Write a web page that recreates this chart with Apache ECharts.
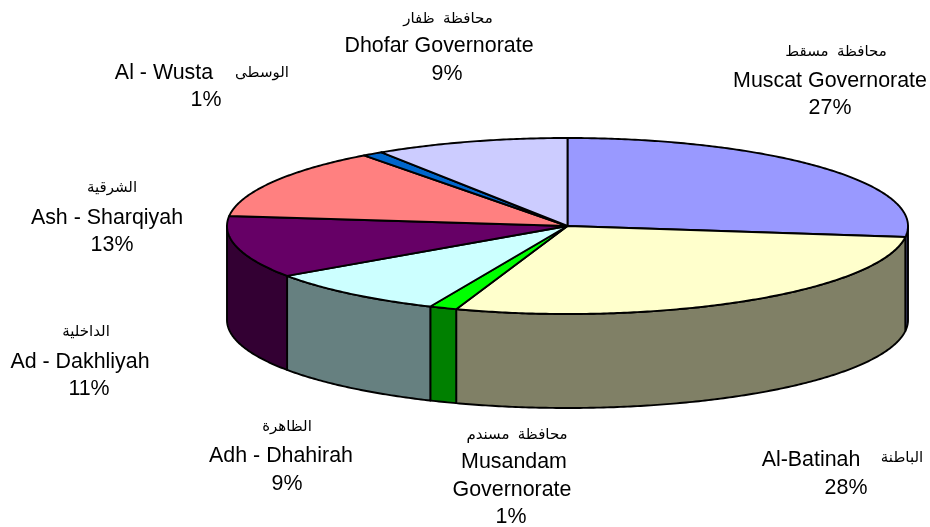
<!DOCTYPE html>
<html>
<head>
<meta charset="utf-8">
<style>html,body{margin:0;padding:0;background:#fff}#c{width:930px;height:527px}</style>
<script src="https://cdn.jsdelivr.net/npm/echarts@6/dist/echarts.min.js"></script>
</head>
<body>
<div id="c"></div>
<script>
// ---- data ----
var regionsEn = [['Muscat Governorate'], ['Al-Batinah'], ['Musandam', 'Governorate'], ['Adh - Dhahirah'],
                 ['Ad - Dakhliyah'], ['Ash - Sharqiyah'], ['Al - Wusta'], ['Dhofar Governorate']];
var regionsAr = ['محافظة  مسقط', 'الباطنة', 'محافظة  مسندم', 'الظاهرة', 'الداخلية', 'الشرقية', 'الوسطى', 'محافظة  ظفار'];
var shares = [27.0, 28.3, 1.3, 8.8, 11.4, 13.0, 1.0, 9.2];

// ---- styles ----
var topColors  = ['#9999FF', '#FFFFCC', '#00FF00', '#CCFFFF', '#660066', '#FF8080', '#0066CC', '#CCCCFF'];
var wallColors = ['#4D4D80', '#808066', '#008000', '#668080', '#330033', '#804040', '#003366', '#666680'];
var disc = { cx: 567.5, cy: 226, rx: 340.5, ry: 88, depth: 94 };
// label centres: [arabic], [english lines...], [percent]
var labelAt = [
  { ar: [836, 52],  en: [[830, 81]],  pct: [830, 108] },
  { ar: [902, 458], en: [[811, 460]], pct: [846, 488] },
  { ar: [517, 435], en: [[514, 462], [512, 490]], pct: [511, 517] },
  { ar: [287, 427], en: [[281, 456]], pct: [287, 484] },
  { ar: [86, 332],  en: [[80, 362]],  pct: [89, 389] },
  { ar: [112, 188], en: [[107, 218]], pct: [112, 245] },
  { ar: [262, 73],  en: [[164, 73]],  pct: [206, 100] },
  { ar: [448, 19],  en: [[439, 46]],  pct: [447, 74] }
];

var total = shares.reduce(function (a, b) { return a + b; }, 0);
var cum = 0;
var rows = shares.map(function (v, i) {
  var start = cum / total * 2 * Math.PI;
  cum += v;
  return { value: [start, cum / total * 2 * Math.PI, i] };
});
function rim(t, dy) {
  return [disc.cx + disc.rx * Math.sin(t), disc.cy - disc.ry * Math.cos(t) + (dy || 0)];
}
function arc(a, b, dy) {
  var n = Math.max(2, Math.ceil((b - a) / 0.01)), out = [];
  for (var k = 0; k <= n; k++) out.push(rim(a + (b - a) * k / n, dy));
  return out;
}
var edge = { stroke: '#000', lineWidth: 1.9, lineJoin: 'round' };
function renderTop(p, api) {
  var a = api.value(0), b = api.value(1), i = api.value(2);
  var pts = [[disc.cx, disc.cy]].concat(arc(a, b));
  return { type: 'polygon', shape: { points: pts }, style: Object.assign({ fill: topColors[i] }, edge) };
}
function renderWall(p, api) {
  var a = Math.max(api.value(0), Math.PI / 2), b = Math.min(api.value(1), Math.PI * 1.5), i = api.value(2);
  if (b <= a) return null;
  var pts = arc(a, b).concat(arc(a, b, disc.depth).reverse());
  return { type: 'polygon', shape: { points: pts }, style: Object.assign({ fill: wallColors[i] }, edge) };
}
var font = '"Liberation Sans", Arial, sans-serif';
function txt(s, at, size, fam) {
  return { type: 'text', x: at[0], y: at[1], silent: true, z: 10,
    style: { text: s, fill: '#000', font: size + 'px ' + fam, align: 'center', verticalAlign: 'middle' } };
}
var labels = [];
shares.forEach(function (v, i) {
  var L = labelAt[i];
  labels.push(txt(regionsAr[i], L.ar, 15, '"Liberation Sans", "DejaVu Sans", sans-serif'));
  regionsEn[i].forEach(function (line, k) { labels.push(txt(line, L.en[k], 21.4, font)); });
  labels.push(txt(Math.round(v) + '%', L.pct, 21.4, font));
});
var chart = echarts.init(document.getElementById('c'), null, { renderer: 'canvas' });
chart.setOption({
  animation: false,
  backgroundColor: '#fff',
  graphic: labels,
  series: [
    { type: 'custom', coordinateSystem: 'none', data: rows, renderItem: renderWall, z: 1, silent: true },
    { type: 'custom', coordinateSystem: 'none', data: rows, renderItem: renderTop, z: 2, silent: true }
  ]
});
</script>
</body>
</html>
